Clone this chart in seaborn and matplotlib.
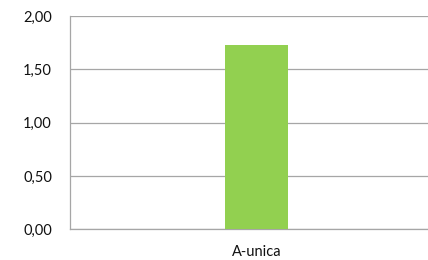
import pandas as pd
import seaborn as sns
import matplotlib.pyplot as plt
from matplotlib.ticker import FuncFormatter

# dados do grafico
categorias = ['A-unica']
valores = [1.73]
yticks = [0.0, 0.5, 1.0, 1.5, 2.0]

df = pd.DataFrame({'categoria': categorias, 'valor': valores})

sns.set_style('white')
plt.rcParams['font.family'] = ['Lato', 'DejaVu Sans']

fig = plt.figure(figsize=(4.28, 2.6), dpi=100)
ax = fig.add_axes([70 / 428, 1 - 229.3 / 260, 373 / 428, (229.3 - 16) / 260])

sns.barplot(data=df, x='categoria', y='valor', color='#92D050', width=0.168,
            saturation=1, linewidth=0, ax=ax, zorder=3)

cinza = '#A6A6A6'
ax.set_xlim(-0.5, 0.5)
ax.set_ylim(0, 2)
ax.set_yticks(yticks)
ax.yaxis.set_major_formatter(FuncFormatter(lambda v, p: f'{v:.2f}'.replace('.', ',')))
ax.grid(axis='y', color=cinza, linewidth=0.9, zorder=0)
ax.set_axisbelow(True)

for s in ['top', 'right']:
    ax.spines[s].set_visible(False)
for s in ['left', 'bottom']:
    ax.spines[s].set_color(cinza)
    ax.spines[s].set_linewidth(0.9)

ax.tick_params(axis='y', length=4, width=0.9, color=cinza, pad=9, labelsize=10.5, labelcolor='#111111')
ax.set_xticks([-0.5], minor=True)
ax.tick_params(axis='x', which='minor', length=4, width=0.9, color=cinza, direction='out')
ax.tick_params(axis='x', which='major', length=0, pad=11, labelsize=10.5, labelcolor='#111111')
ax.set_xlabel('')
ax.set_ylabel('')

fig.savefig('out.png', dpi=100)
